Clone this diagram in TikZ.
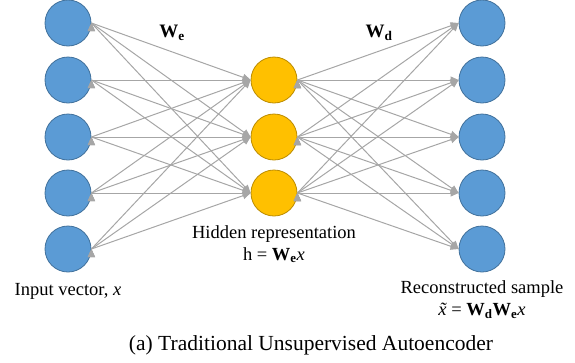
\documentclass[tikz,border=0pt]{standalone}
\usepackage{fontspec}
\setmainfont{Liberation Serif}
\usepackage{tikz}
\usetikzlibrary{arrows.meta}

\definecolor{unitblue}{HTML}{5B9BD5}
\definecolor{unitblueline}{HTML}{41719C}
\definecolor{unityellow}{HTML}{FFC000}
\definecolor{unityellowline}{HTML}{BC8C00}
\definecolor{weightgray}{HTML}{A6A6A6}

\begin{document}
\begin{tikzpicture}[x=1pt,y=-1pt,
	unit/.style={shape=circle,draw=unitblueline,fill=unitblue,minimum size=46pt,inner sep=0pt,line width=0.8pt},
	hid/.style={unit,draw=unityellowline,fill=unityellow},
	weight/.style={-{Triangle[length=8pt,width=7pt]},draw=weightgray,fill=weightgray,line width=1pt},
	lbl/.style={font=\fontsize{18.5}{22}\selectfont,align=center}]

	\useasboundingbox (0,0) rectangle (575,362);

	% input layer
	\node[unit] (in1) at (68, 23)  {};
	\node[unit] (in2) at (68, 80)  {};
	\node[unit] (in3) at (68, 137) {};
	\node[unit] (in4) at (68, 193) {};
	\node[unit] (in5) at (68, 249) {};

	% hidden layer
	\node[hid] (hid1) at (274, 80)  {};
	\node[hid] (hid2) at (274, 137) {};
	\node[hid] (hid3) at (274, 193) {};

	% output layer
	\node[unit] (out1) at (482, 23)  {};
	\node[unit] (out2) at (482, 80)  {};
	\node[unit] (out3) at (482, 137) {};
	\node[unit] (out4) at (482, 193) {};
	\node[unit] (out5) at (482, 249) {};

	% encoder weights
	\path[weight] (in1.east) edge (hid1.west);
	\path[weight] (in1.east) edge (hid2.west);
	\path[weight] (in1.east) edge (hid3.west);
	\path[weight] (in2.east) edge (hid1.west);
	\path[weight] (in2.east) edge (hid2.west);
	\path[weight] (in2.east) edge (hid3.west);
	\path[weight] (in3.east) edge (hid1.west);
	\path[weight] (in3.east) edge (hid2.west);
	\path[weight] (in3.east) edge (hid3.west);
	\path[weight] (in4.east) edge (hid1.west);
	\path[weight] (in4.east) edge (hid2.west);
	\path[weight] (in4.east) edge (hid3.west);
	\path[weight] (in5.east) edge (hid1.west);
	\path[weight] (in5.east) edge (hid2.west);
	\path[weight] (in5.east) edge (hid3.west);

	% decoder weights
	\path[weight] (hid1.east) edge (out1.west);
	\path[weight] (hid1.east) edge (out2.west);
	\path[weight] (hid1.east) edge (out3.west);
	\path[weight] (hid1.east) edge (out4.west);
	\path[weight] (hid1.east) edge (out5.west);
	\path[weight] (hid2.east) edge (out1.west);
	\path[weight] (hid2.east) edge (out2.west);
	\path[weight] (hid2.east) edge (out3.west);
	\path[weight] (hid2.east) edge (out4.west);
	\path[weight] (hid2.east) edge (out5.west);
	\path[weight] (hid3.east) edge (out1.west);
	\path[weight] (hid3.east) edge (out2.west);
	\path[weight] (hid3.east) edge (out3.west);
	\path[weight] (hid3.east) edge (out4.west);
	\path[weight] (hid3.east) edge (out5.west);

	% labels
	\node[lbl,font=\bfseries\fontsize{19}{22}\selectfont] (we) at (172, 33) {W\textsubscript{e}};
	\node[lbl,font=\bfseries\fontsize{19}{22}\selectfont] (wd) at (379, 33) {W\textsubscript{d}};
	\node[lbl] (hidtxt) at (274, 244) {Hidden representation\\h = {\bfseries W\textsubscript{e}}\textit{x}};
	\node[lbl] (intxt) at (68, 291) {Input vector, \textit{x}};
	\node[lbl] (outtxt) at (482, 300) {Reconstructed sample\\\textit{\accent"02DC x} = {\bfseries W\textsubscript{d}W\textsubscript{e}}\textit{x}};
	\node[font=\fontsize{21.5}{24}\selectfont] (caption) at (311, 345) {(a) Traditional Unsupervised Autoencoder};

\end{tikzpicture}
\end{document}
